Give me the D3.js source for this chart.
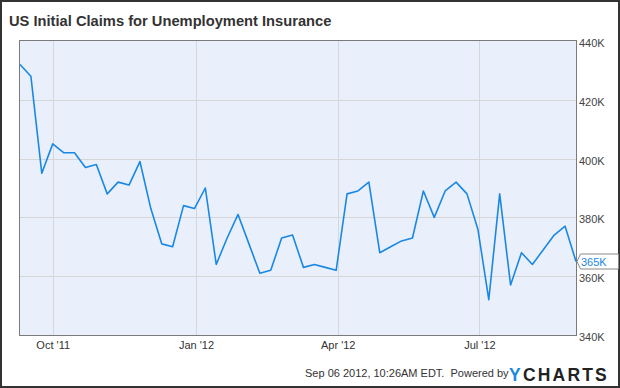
<!DOCTYPE html>
<html>
<head>
<meta charset="utf-8">
<script src="https://cdn.jsdelivr.net/npm/d3@7"></script>
<style>
  html, body { margin: 0; padding: 0; background: #fff; }
  svg { display: block; font-family: "Liberation Sans", Arial, sans-serif; }
</style>
</head>
<body>
<svg id="chart" width="620" height="388"></svg>
<script>
// ---- Data ----
const weekEnding = [
  "2011-09-10","2011-09-17","2011-09-24","2011-10-01","2011-10-08","2011-10-15","2011-10-22","2011-10-29",
  "2011-11-05","2011-11-12","2011-11-19","2011-11-26","2011-12-03","2011-12-10","2011-12-17","2011-12-24",
  "2011-12-31","2012-01-07","2012-01-14","2012-01-21","2012-01-28","2012-02-04","2012-02-11","2012-02-18",
  "2012-02-25","2012-03-03","2012-03-10","2012-03-17","2012-03-24","2012-03-31","2012-04-07","2012-04-14",
  "2012-04-21","2012-04-28","2012-05-05","2012-05-12","2012-05-19","2012-05-26","2012-06-02","2012-06-09",
  "2012-06-16","2012-06-23","2012-06-30","2012-07-07","2012-07-14","2012-07-21","2012-07-28","2012-08-04",
  "2012-08-11","2012-08-18","2012-08-25","2012-09-01"
];
const claimsK = [
  432, 428, 395, 405, 402, 402, 397, 398,
  388, 392, 391, 399, 383, 371, 370, 384,
  383, 390, 364, 373, 381, 371, 361, 362,
  373, 374, 363, 364, 363, 362, 388, 389,
  392, 368, 370, 372, 373, 389, 380, 389,
  392, 388, 376, 352, 388, 357, 368, 364,
  369, 374, 377, 365
];
const xTickDates = ["2011-10-01","2012-01-01","2012-04-01","2012-07-01"];
const xTickLabels = ["Oct '11","Jan '12","Apr '12","Jul '12"];
const yTicks = [340, 360, 380, 400, 420, 440];
const yDomain = [340, 440];
const lastLabel = "365K";
const titleText = "US Initial Claims for Unemployment Insurance";
const footerText = "Sep 06 2012, 10:26AM EDT.  Powered by";

// ---- Layout ----
const W = 620, H = 388;
const plot = { left: 20, right: 576, top: 41, bottom: 335 };

const parse = d3.utcParse("%Y-%m-%d");
const data = weekEnding.map((d, i) => ({ date: parse(d), v: claimsK[i] }));

const x = d3.scaleUtc()
  .domain(d3.extent(data, d => d.date))
  .range([plot.left, plot.right]);
const y = d3.scaleLinear().domain(yDomain).range([plot.bottom, plot.top]);

const svg = d3.select("#chart");

// outer border
svg.append("rect")
  .attr("x", 1).attr("y", 1).attr("width", W - 2).attr("height", H - 2)
  .attr("fill", "#fff").attr("stroke", "#333").attr("stroke-width", 2);

// title
svg.append("text")
  .attr("x", 9).attr("y", 26)
  .attr("font-size", 14.7).attr("font-weight", "bold").attr("fill", "#333")
  .text(titleText);

// plot background
svg.append("rect")
  .attr("x", plot.left).attr("y", plot.top)
  .attr("width", plot.right - plot.left).attr("height", plot.bottom - plot.top)
  .attr("fill", "#e9f0fc");

// horizontal gridlines
svg.append("g")
  .selectAll("line")
  .data(yTicks.filter(t => t > yDomain[0] && t < yDomain[1]))
  .join("line")
  .attr("x1", plot.left).attr("x2", plot.right)
  .attr("y1", d => Math.round(y(d)) + 0.5).attr("y2", d => Math.round(y(d)) + 0.5)
  .attr("stroke", "#d6d6d6").attr("stroke-width", 1);

// vertical gridlines
const xTicks = xTickDates.map(parse);
svg.append("g")
  .selectAll("line")
  .data(xTicks)
  .join("line")
  .attr("x1", d => Math.round(x(d)) + 0.5).attr("x2", d => Math.round(x(d)) + 0.5)
  .attr("y1", plot.top).attr("y2", plot.bottom)
  .attr("stroke", "#d6d6d6").attr("stroke-width", 1);

// plot border
svg.append("rect")
  .attr("x", plot.left - 0.5).attr("y", plot.top - 0.5)
  .attr("width", plot.right - plot.left + 1).attr("height", plot.bottom - plot.top + 1)
  .attr("fill", "none").attr("stroke", "#7a7a7a").attr("stroke-width", 1);

// x axis labels (via d3 axis)
const xAxis = d3.axisBottom(x)
  .tickValues(xTicks)
  .tickSize(0)
  .tickPadding(6)
  .tickFormat((d, i) => xTickLabels[i]);
const gx = svg.append("g")
  .attr("transform", `translate(0,${plot.bottom})`)
  .call(xAxis);
gx.select(".domain").remove();
gx.selectAll("text")
  .attr("font-size", 11).attr("fill", "#333")
  .attr("font-family", "Liberation Sans, Arial, sans-serif");

// y axis labels (right)
const yAxis = d3.axisRight(y)
  .tickValues(yTicks)
  .tickSize(0)
  .tickPadding(3)
  .tickFormat(d => d + "K");
const gy = svg.append("g")
  .attr("transform", `translate(${plot.right},2)`)
  .call(yAxis);
gy.select(".domain").remove();
gy.selectAll("text")
  .attr("font-size", 11).attr("fill", "#444")
  .attr("font-family", "Liberation Sans, Arial, sans-serif");

// line
const line = d3.line().x(d => x(d.date)).y(d => y(d.v));
svg.append("path")
  .datum(data)
  .attr("d", line)
  .attr("fill", "none")
  .attr("stroke", "#1a88e3")
  .attr("stroke-width", 1.6)
  .attr("stroke-linejoin", "round");

// last value marker
const last = data[data.length - 1];
const ly = y(last.v);
const lx = plot.right + 1;
svg.append("path")
  .attr("d", `M${lx},${ly} L${lx + 3.5},${ly - 7.5} L${W - 1.5},${ly - 7.5} L${W - 1.5},${ly + 7.5} L${lx + 3.5},${ly + 7.5} Z`)
  .attr("fill", "#fff").attr("stroke", "#888").attr("stroke-width", 1);
svg.append("text")
  .attr("x", lx + 4).attr("y", ly + 4)
  .attr("font-size", 11).attr("fill", "#1a88e3")
  .text(lastLabel);

// footer
svg.append("text")
  .attr("x", 305).attr("y", 377)
  .attr("font-size", 11).attr("fill", "#333")
  .style("white-space", "pre")
  .text(footerText);

const logo = svg.append("text")
  .attr("x", 509).attr("y", 380.5)
  .attr("font-size", 17.5).attr("font-weight", "bold")
  .attr("letter-spacing", 2.2);
logo.append("tspan").attr("fill", "#1a88e3").text("Y");
logo.append("tspan").attr("fill", "#222").text("CHARTS");
</script>
</body>
</html>
